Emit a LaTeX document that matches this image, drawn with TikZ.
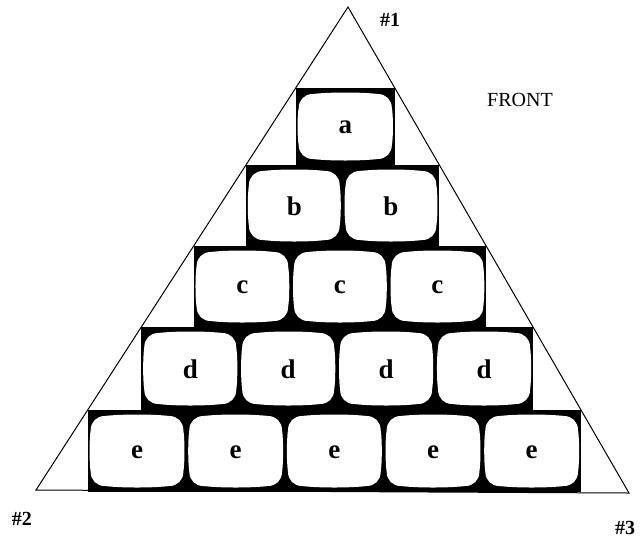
\documentclass[tikz,border=0pt]{standalone}
\usepackage{fontspec}
\setmainfont{Liberation Serif}
\begin{document}
\begin{tikzpicture}[x=1pt,y=-1pt,
  screen/.style={draw=none, fill=none, inner sep=0pt,
    font=\fontsize{27}{27}\selectfont\bfseries},
  glass/.style={fill=white},
  rowblk/.style={fill=black},
  side/.style={draw=black, line width=1pt, line join=miter},
  corner/.style={font=\fontsize{20}{20}\selectfont\bfseries, inner sep=0pt},
  tag/.style={font=\fontsize{20}{20}\selectfont, inner sep=0pt}]
\useasboundingbox (0,0) rectangle (644,539);
\fill[white] (0,0) rectangle (644,539);
\coordinate (v1) at (348,7);
\coordinate (v2) at (36,490);
\coordinate (v3) at (629,493);
\draw[side] (v1) -- (v2) -- (v3) -- cycle;
\foreach \r/\t/\b/\n in {a/88/165/1, b/165/246/2, c/246/327/3, d/327/410/4, e/410/492/5} {
  \pgfmathsetmacro\L{348-0.64596*(\t-7)}
  \pgfmathsetmacro\R{348+0.57819*(\t-7)}
  \fill[rowblk] (\L,\t) rectangle (\R,\b);
  \pgfmathsetmacro\p{(\R-\L)/\n}
  \pgfmathsetmacro\ha{(\p-6)/2}
  \pgfmathsetmacro\hb{(\b-\t-12)/2}
  \pgfmathsetmacro\cy{(\t+\b)/2}
  \foreach \i in {1,...,\n} {
    \pgfmathsetmacro\cx{\L+\p*(\i-0.5)}
    \begin{scope}[shift={(\cx,\cy)}]
      \fill[glass]
        (-\ha+14,-\hb) .. controls (-\ha/3,-\hb-2) and (\ha/3,-\hb-2) .. (\ha-14,-\hb)
        .. controls (\ha-6,-\hb) and (\ha,-\hb+6) .. (\ha,-\hb+14)
        .. controls (\ha+1.5,-\hb/3) and (\ha+1.5,\hb/3) .. (\ha,\hb-14)
        .. controls (\ha,\hb-6) and (\ha-6,\hb) .. (\ha-14,\hb)
        .. controls (\ha/3,\hb+2) and (-\ha/3,\hb+2) .. (-\ha+14,\hb)
        .. controls (-\ha+6,\hb) and (-\ha,\hb-6) .. (-\ha,\hb-14)
        .. controls (-\ha-1.5,\hb/3) and (-\ha-1.5,-\hb/3) .. (-\ha,-\hb+14)
        .. controls (-\ha,-\hb+6) and (-\ha+6,-\hb) .. cycle;
    \end{scope}
    \node[screen, minimum width=2*\ha pt, minimum height=2*\hb pt] (\r\i) at (\cx,\cy+1) {\r};
  }
}
\node[corner] (n1) at (390,20) {\#1};
\node[corner] (n2) at (22,519) {\#2};
\node[corner] (n3) at (625,528) {\#3};
\node[tag] (front) at (520,100) {FRONT};
\end{tikzpicture}
\end{document}
